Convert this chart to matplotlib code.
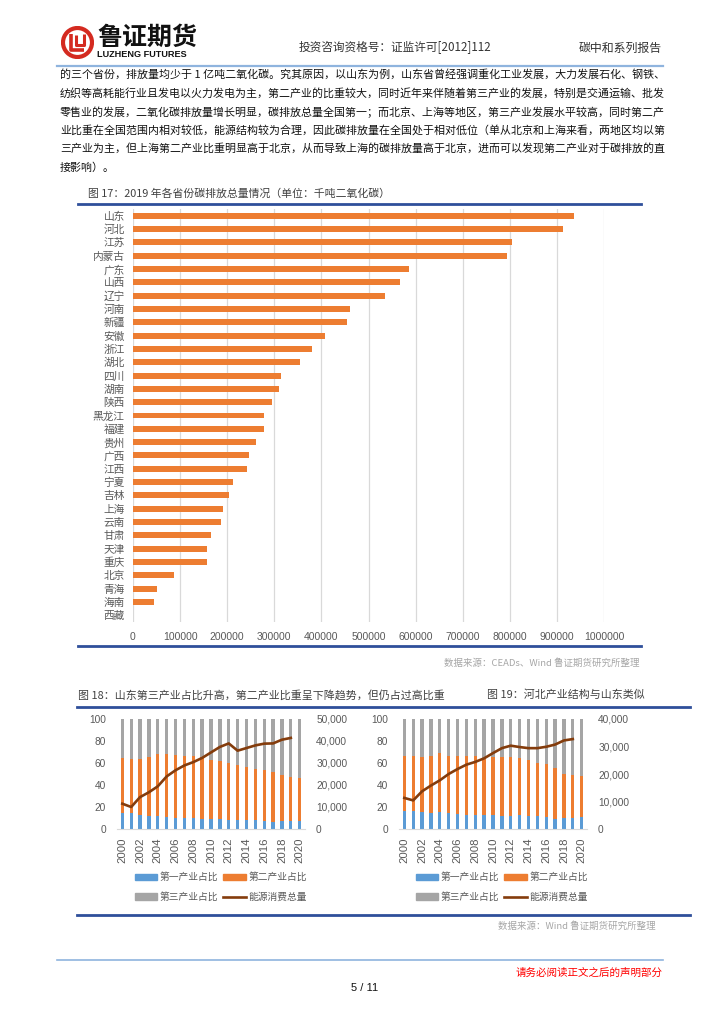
import numpy as np
import matplotlib.pyplot as plt
from matplotlib.patches import Circle, Patch
from matplotlib.lines import Line2D

plt.rcParams['font.family'] = ['Noto Sans CJK SC', 'DejaVu Sans']

W, H = 724, 1024
fig = plt.figure(figsize=(7.24, 10.24), dpi=100)


def fx(px):
    return px / W


def fy(py):
    return 1 - py / H


def box(l, t, r, b):
    return [l / W, 1 - b / H, (r - l) / W, (b - t) / H]


def hline(x0, x1, y, color, lw):
    fig.add_artist(Line2D([fx(x0), fx(x1)], [fy(y), fy(y)], color=color, lw=lw))


# ---------------- data ----------------
provinces = ['山东', '河北', '江苏', '内蒙古', '广东', '山西', '辽宁', '河南', '新疆', '安徽',
             '浙江', '湖北', '四川', '湖南', '陕西', '黑龙江', '福建', '贵州', '广西', '江西',
             '宁夏', '吉林', '上海', '云南', '甘肃', '天津', '重庆', '北京', '青海', '海南', '西藏']
emissions = [937000, 914000, 805000, 794000, 585000, 567000, 534000, 460000, 455000, 408000,
             381000, 355000, 315000, 311000, 296000, 278000, 279000, 261000, 246000, 242000,
             212000, 204000, 192000, 186000, 165000, 158000, 157000, 88000, 51000, 44000, 0]

years = list(range(2000, 2021))
sd_primary = [14.5, 14.5, 13.0, 12.0, 11.5, 10.6, 9.7, 9.7, 9.6, 9.1, 9.2,
              8.8, 8.6, 8.1, 8.1, 7.9, 7.3, 6.7, 7.4, 7.2, 7.3]
sd_secondary = [50.3, 49.1, 50.6, 53.2, 56.4, 57.3, 57.9, 57.0, 57.1, 56.4, 53.8,
                53.0, 51.4, 49.8, 48.3, 46.9, 46.0, 45.4, 41.4, 39.8, 38.7]
sd_tertiary = [35.2, 36.4, 36.4, 34.8, 32.1, 32.1, 32.4, 33.3, 33.3, 34.5, 37.0,
               38.2, 40.0, 42.1, 43.6, 45.2, 46.7, 47.9, 51.2, 53.0, 54.0]
sd_energy = [11500, 10000, 14500, 16700, 19400, 23900, 26700, 28900, 30400, 32300, 34800,
             37300, 38900, 35600, 36800, 38000, 38800, 38900, 40600, 41400, np.nan]

hb_primary = [16.0, 16.0, 15.5, 14.8, 15.5, 14.5, 13.6, 13.0, 12.7, 12.7, 12.6,
              12.0, 11.8, 12.4, 11.7, 11.5, 10.9, 9.2, 10.3, 9.8, 10.7]
hb_secondary = [50.7, 50.0, 49.7, 51.9, 53.3, 52.2, 52.4, 53.0, 54.0, 50.9, 52.6,
                53.2, 53.4, 52.1, 50.7, 48.5, 47.9, 46.6, 39.4, 39.0, 37.5]
hb_tertiary = [33.3, 34.0, 34.8, 33.3, 31.2, 33.3, 34.0, 34.0, 33.3, 36.4, 34.8,
               34.8, 34.8, 35.5, 37.6, 40.0, 41.2, 44.2, 50.3, 51.2, 51.8]
hb_energy = [11300, 10400, 13700, 15800, 17700, 20000, 21800, 23400, 24400, 25700, 27600,
             29400, 30300, 29800, 29400, 29400, 29900, 30700, 32200, 32700, np.nan]

legend_labels = ['第一产业占比', '第二产业占比', '第三产业占比', '能源消费总量']

paragraph = [
    '的三个省份，排放量均少于 1 亿吨二氧化碳。究其原因，以山东为例，山东省曾经强调重化工业发展，大力发展石化、钢铁、',
    '纺织等高耗能行业且发电以火力发电为主，第二产业的比重较大，同时近年来伴随着第三产业的发展，特别是交通运输、批发',
    '零售业的发展，二氧化碳排放量增长明显，碳排放总量全国第一；而北京、上海等地区，第三产业发展水平较高，同时第二产',
    '业比重在全国范围内相对较低，能源结构较为合理，因此碳排放量在全国处于相对低位（单从北京和上海来看，两地区均以第',
    '三产业为主，但上海第二产业比重明显高于北京，从而导致上海的碳排放量高于北京，进而可以发现第二产业对于碳排放的直',
    '接影响）。',
]

BLUE, ORANGE, GRAY, BROWN = '#5B9BD5', '#ED7D31', '#A5A5A5', '#843C0C'
TXT = '#595959'
RED = '#D42A20'

# ---------------- header ----------------
lg = fig.add_axes(box(61, 26, 94, 59))
lg.set_xlim(0, 33)
lg.set_ylim(33, 0)
lg.set_aspect('equal')
lg.axis('off')
lg.add_patch(Circle((16.5, 16.5), 14.5, fill=False, ec=RED, lw=3))
lg.plot([10, 10, 23], [8, 24, 24], color=RED, lw=2.6, solid_capstyle='butt')
lg.plot([15, 15, 23, 23], [9, 19, 19, 8], color=RED, lw=2.2, solid_capstyle='butt')

fig.text(fx(97), fy(38), '鲁证期货', fontsize=18, fontweight='bold', color='#111111',
         va='center', ha='left')
fig.text(fx(97), fy(54.5), 'LUZHENG FUTURES', fontsize=6.6, fontweight='bold', color='#111111',
         va='center', ha='left', family='Liberation Sans')
fig.text(fx(299), fy(48), '投资咨询资格号：证监许可[2012]112', fontsize=8.4, color='#333333',
         va='center', ha='left')
fig.text(fx(662), fy(48), '碳中和系列报告', fontsize=8.6, color='#333333', va='center', ha='right')
hline(57, 663, 65.5, '#8FB4DE', 1.6)

# ---------------- paragraph ----------------
for i, line in enumerate(paragraph):
    fig.text(fx(60), fy(74.5 + i * 18.7), line, fontsize=7.9, color='#111111', va='center', ha='left')

# ---------------- figure 17 ----------------
fig.text(fx(88), fy(194), '图 17：2019 年各省份碳排放总量情况（单位：千吨二氧化碳）', fontsize=7.8,
         color='#404040', va='center', ha='left')
hline(78, 641, 204, '#2F4F9A', 2.0)
hline(78, 641, 645.5, '#2F4F9A', 2.0)

ax = fig.add_axes(box(133, 209, 604, 622))
ypos = np.arange(len(provinces))
ax.barh(ypos, emissions, height=0.45, color=ORANGE, zorder=3)
ax.set_ylim(len(provinces) - 0.5, -0.5)
ax.set_xlim(0, 1000000)
ax.set_xticks(np.arange(0, 1000001, 100000))
ax.set_xticklabels([str(v) for v in range(0, 1000001, 100000)], family='Liberation Sans')
ax.set_yticks(ypos)
ax.set_yticklabels(provinces)
ax.grid(axis='x', color='#D9D9D9', lw=0.9, zorder=0)
for s in ax.spines.values():
    s.set_visible(False)
ax.tick_params(axis='both', length=0, colors=TXT)
ax.tick_params(axis='y', pad=6, labelsize=7.7)
ax.tick_params(axis='x', pad=7, labelsize=7.5)

fig.text(fx(640), fy(663), '数据来源：CEADs、Wind 鲁证期货研究所整理', fontsize=6.8, color='#A6A6A6',
         va='center', ha='right')

# ---------------- figures 18 / 19 ----------------
fig.text(fx(78), fy(695), '图 18：山东第三产业占比升高，第二产业比重呈下降趋势，但仍占过高比重', fontsize=7.9,
         color='#404040', va='center', ha='left')
fig.text(fx(487), fy(695), '图 19：河北产业结构与山东类似', fontsize=7.9,
         color='#404040', va='center', ha='left')
hline(77, 690, 706.5, '#2F4F9A', 2.0)
hline(77, 690, 914.5, '#2F4F9A', 2.0)
fig.text(fx(656), fy(926), '数据来源：Wind 鲁证期货研究所整理', fontsize=6.8, color='#A6A6A6',
         va='center', ha='right')


def industry_chart(rect, prim, sec, ter, energy, ymax2, step2, leg_center):
    a = fig.add_axes(rect)
    x = np.arange(len(years))
    prim = np.array(prim)
    sec = np.array(sec)
    ter = np.array(ter)
    a.bar(x, prim, width=0.38, color=BLUE, zorder=2)
    a.bar(x, sec, width=0.38, bottom=prim, color=ORANGE, zorder=2)
    a.bar(x, ter, width=0.38, bottom=prim + sec, color=GRAY, zorder=2)
    a.set_ylim(0, 100)
    a.set_xlim(-0.6, len(years) - 0.4)
    a.set_yticks(range(0, 101, 20))
    a.set_xticks(x[::2])
    a.set_xticklabels([str(y) for y in years[::2]], rotation=90, family='Liberation Sans')
    for lab in a.get_yticklabels():
        lab.set_family('Liberation Sans')
    for k, s in a.spines.items():
        s.set_visible(k == 'bottom')
    a.spines['bottom'].set_color('#D9D9D9')
    a.tick_params(axis='both', length=0, colors=TXT, labelsize=7.3)
    a.tick_params(axis='y', pad=8)
    a.tick_params(axis='x', pad=6, labelsize=8.2)

    a2 = a.twinx()
    a2.plot(x, energy, color=BROWN, lw=1.9, zorder=4)
    a2.set_ylim(0, ymax2)
    a2.set_yticks(np.arange(0, ymax2 + 1, step2))
    a2.set_yticklabels(['{:,}'.format(int(v)) for v in np.arange(0, ymax2 + 1, step2)],
                       family='Liberation Sans')
    for s in a2.spines.values():
        s.set_visible(False)
    a2.tick_params(axis='y', length=0, colors=TXT, labelsize=7.3, pad=8)

    handles = [Patch(color=BLUE), Patch(color=GRAY), Patch(color=ORANGE),
               Line2D([0], [0], color=BROWN, lw=1.9)]
    labels = [legend_labels[0], legend_labels[2], legend_labels[1], legend_labels[3]]
    leg = a2.legend(handles, labels, ncol=2, loc='center', frameon=False,
                    bbox_to_anchor=(fx(leg_center[0]), fy(leg_center[1])),
                    bbox_transform=fig.transFigure, fontsize=7, handlelength=2.3,
                    handleheight=0.6, handletextpad=0.3, columnspacing=0.5, labelspacing=1.0)
    for t in leg.get_texts():
        t.set_color(TXT)
    return a


industry_chart(box(117, 719, 305, 829), sd_primary, sd_secondary, sd_tertiary, sd_energy,
               50000, 10000, (221, 887))
industry_chart(box(399, 719, 587, 829), hb_primary, hb_secondary, hb_tertiary, hb_energy,
               40000, 10000, (502, 887))

# ---------------- footer ----------------
hline(57, 663, 959.5, '#8FB4DE', 1.2)
fig.text(fx(663), fy(973), '请务必阅读正文之后的声明部分', fontsize=7.6, color='#FF0000',
         va='center', ha='right')
fig.text(fx(365), fy(988), '5 / 11', fontsize=8, color='#111111', va='center', ha='center',
         family='Liberation Sans')

fig.savefig('out.png', dpi=100)
